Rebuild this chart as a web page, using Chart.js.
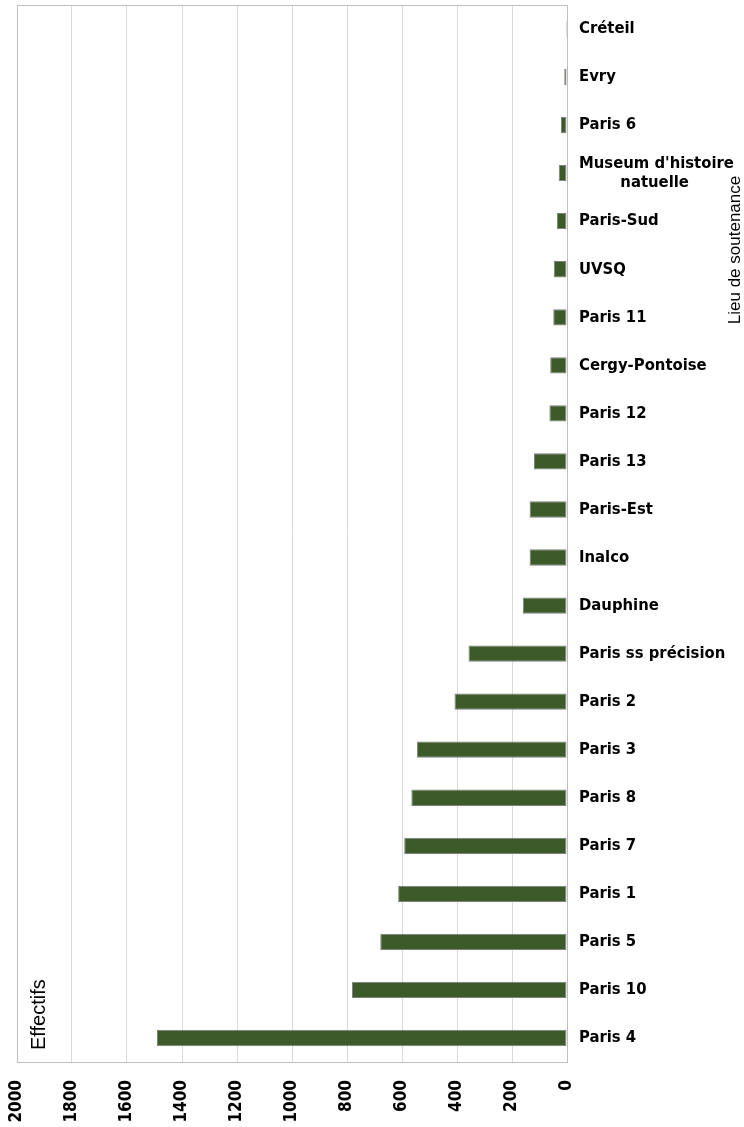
<!DOCTYPE html>
<html>
<head>
<meta charset="utf-8">
<script src="https://cdn.jsdelivr.net/npm/chart.js@4.4.1/dist/chart.umd.min.js"></script>
<style>
  html, body { margin: 0; padding: 0; background: #fff; }
  #wrap { width: 744px; height: 1127px; }
</style>
</head>
<body>
<div id="wrap"><canvas id="chart" width="744" height="1127"></canvas></div>
<script>
// Lieux de soutenance, du haut vers le bas
const lieux = [
    'Créteil', 'Evry', 'Paris 6', ['Museum d\'histoire', '        natuelle'], 'Paris-Sud', 'UVSQ',
    'Paris 11', 'Cergy-Pontoise', 'Paris 12', 'Paris 13', 'Paris-Est', 'Inalco',
    'Dauphine', 'Paris ss précision', 'Paris 2', 'Paris 3', 'Paris 8', 'Paris 7',
    'Paris 1', 'Paris 5', 'Paris 10', 'Paris 4'
];
const effectifs = [
    4, 10, 22, 30, 37, 48,
    50, 61, 64, 120, 136, 136,
    161, 358, 409, 546, 566, 592,
    614, 679, 782, 1491
];
const axeMin = 0;
const axeMax = 2000;
const axePas = 200;
const titreValeurs = 'Effectifs';
const titreLieux = 'Lieu de soutenance';

const labelFont = "'Liberation Sans Narrow', 'Arial Narrow', 'DejaVu Sans Condensed', sans-serif";
const titleFont = "'Liberation Sans', Arial, sans-serif";

// cadre + titres d'axes
const decor = {
    id: 'decor',
    afterDatasetsDraw(chart) {
        const { ctx, chartArea: a } = chart;
        ctx.save();
        ctx.strokeStyle = '#bfbfbf';
        ctx.lineWidth = 1;
        ctx.strokeRect(Math.round(a.left) + 0.5, Math.round(a.top) + 0.5,
            Math.round(a.right - a.left), Math.round(a.bottom - a.top));

        ctx.fillStyle = '#000';
        ctx.textBaseline = 'middle';

        // "Effectifs" en bas à gauche, vertical
        ctx.save();
        ctx.font = '20px ' + titleFont;
        ctx.translate(a.left + 22, a.bottom - 12);
        ctx.rotate(-Math.PI / 2);
        ctx.textAlign = 'left';
        ctx.fillText(titreValeurs, 0, 0);
        ctx.restore();

        // "Lieu de soutenance" à droite, vertical
        ctx.save();
        ctx.font = '17px ' + titleFont;
        ctx.translate(735, 250);
        ctx.rotate(-Math.PI / 2);
        ctx.textAlign = 'center';
        ctx.fillText(titreLieux, 0, 0);
        ctx.restore();
        ctx.restore();
    }
};

new Chart(document.getElementById('chart'), {
    type: 'bar',
    data: {
        labels: lieux,
        datasets: [{
            label: titreValeurs,
            data: effectifs,
            backgroundColor: '#3d5a2b',
            borderColor: '#7f7f7f',
            borderWidth: 1,
            borderSkipped: false,
            barPercentage: 0.34,
            categoryPercentage: 1
        }]
    },
    options: {
        indexAxis: 'y',
        responsive: false,
        animation: false,
        layout: {
            padding: { left: 17, top: 5, right: 0, bottom: 0 }
        },
        plugins: {
            legend: { display: false },
            tooltip: { enabled: false }
        },
        scales: {
            x: {
                reverse: true,
                min: axeMin,
                max: axeMax,
                position: 'bottom',
                afterFit(scale) {
                    scale.height = 65;
                    scale.paddingLeft = 0;
                    scale.paddingRight = 0;
                },
                grid: {
                    color: '#d9d9d9',
                    drawTicks: false
                },
                border: { display: false },
                ticks: {
                    stepSize: axePas,
                    minRotation: 90,
                    maxRotation: 90,
                    padding: 18,
                    color: '#000',
                    font: { family: labelFont, size: 17, weight: 'bold' },
                    callback: (v) => String(v)
                }
            },
            y: {
                position: 'right',
                afterFit(scale) {
                    scale.width = 177;
                    scale.paddingTop = 0;
                    scale.paddingBottom = 0;
                },
                grid: { display: false, drawTicks: false },
                border: { display: false },
                ticks: {
                    padding: 12,
                    color: '#000',
                    font: { family: labelFont, size: 16.5, weight: 'bold', lineHeight: 1.15 }
                }
            }
        }
    },
    plugins: [decor]
});
</script>
</body>
</html>
